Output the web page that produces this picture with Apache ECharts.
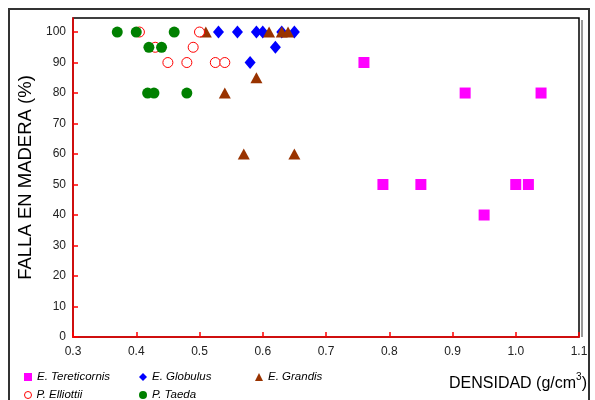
<!DOCTYPE html>
<html><head><meta charset="utf-8">
<script src="https://cdn.jsdelivr.net/npm/echarts@6/dist/echarts.min.js"></script>
<style>html,body{margin:0;padding:0;background:#fff}#c{width:595px;height:400px}</style>
</head><body><div id="c"></div>
<script>
var seriesNames = ['E. Tereticornis', 'E. Globulus', 'E. Grandis', 'P. Elliottii', 'P. Taeda'];
var tereticornis = [[0.76,90],[0.79,50],[0.85,50],[0.92,80],[0.95,40],[1.00,50],[1.02,50],[1.04,80]];
var globulus = [[0.53,100],[0.56,100],[0.59,100],[0.60,100],[0.63,100],[0.65,100],[0.62,95],[0.58,90]];
var grandis = [[0.51,100],[0.61,100],[0.63,100],[0.64,100],[0.59,85],[0.54,80],[0.57,60],[0.65,60]];
var elliottii = [[0.405,100],[0.50,100],[0.43,95],[0.49,95],[0.45,90],[0.48,90],[0.525,90],[0.54,90]];
var taeda = [[0.37,100],[0.40,100],[0.46,100],[0.42,95],[0.44,95],[0.418,80],[0.428,80],[0.48,80]];
var yTicks = [0,10,20,30,40,50,60,70,80,90,100];

var chart = echarts.init(document.getElementById('c'), null, {renderer:'canvas'});
var font = '"Liberation Sans", Arial, sans-serif';
function legendAt(name, left, top, size) {
  return {data:[name], left:left, top:top, itemWidth:size || 8, itemHeight:size || 8, itemGap:0, padding:0,
    itemStyle:{borderWidth:1},
    textStyle:{fontFamily:font, fontSize:11.5, fontStyle:'italic', color:'#000'}};
}
chart.setOption({
  animation:false,
  backgroundColor:'#fff',
  textStyle:{fontFamily:font},
  grid:{left:73, right:16, top:18, bottom:63, show:true, borderColor:'#000', borderWidth:1.5, backgroundColor:'#fff'},
  legend:[
    legendAt(seriesNames[0], 24, 371),
    legendAt(seriesNames[1], 139, 371),
    legendAt(seriesNames[2], 255, 371),
    legendAt(seriesNames[3], 24, 389, 7),
    legendAt(seriesNames[4], 139, 389)
  ],
  graphic:[
    {type:'rect', shape:{x:9, y:9, width:580, height:400}, style:{fill:null, stroke:'#333', lineWidth:2}, silent:true},
    {type:'line', shape:{x1:582, y1:20, x2:582, y2:337}, style:{stroke:'#999', lineWidth:2}, silent:true},
    {type:'text', right:8, top:372, style:{
      text:'{a|DENSIDAD (g/cm}{s|3}{a|)}',
      rich:{a:{fontFamily:font, fontSize:16, color:'#000', verticalAlign:'bottom', lineHeight:20},
            s:{fontFamily:font, fontSize:10, color:'#000', verticalAlign:'top', lineHeight:20, padding:[0,0,8,0]}}
    }}
  ],
  xAxis:{type:'value', min:0.3, max:1.1, interval:0.1,
    axisLine:{lineStyle:{color:'#ff0000', width:1.5}},
    axisTick:{inside:true, length:5, lineStyle:{color:'#ff0000', width:1.5}},
    splitLine:{show:false},
    axisLabel:{color:'#222', fontSize:12, margin:9, formatter:function(v){return v.toFixed(1);}}
  },
  yAxis:{type:'value', min:0, max:104.6,
    name:'FALLA EN MADERA (%)', nameLocation:'middle', nameGap:31, nameRotate:90,
    nameTextStyle:{fontSize:18.5, color:'#000', fontFamily:font},
    axisLine:{lineStyle:{color:'#ff0000', width:1.5}},
    axisTick:{inside:true, length:5, customValues:yTicks, lineStyle:{color:'#ff0000', width:1.5}},
    axisLabel:{color:'#222', fontSize:12, margin:7, customValues:yTicks},
    splitLine:{show:false}
  },
  series:[
    {name:seriesNames[0], type:'scatter', symbol:'rect', symbolSize:11, data:tereticornis, itemStyle:{color:'#ff00ff', opacity:1}},
    {name:seriesNames[1], type:'scatter', symbol:'diamond', symbolSize:[11,13], data:globulus, itemStyle:{color:'#0000ff', opacity:1}},
    {name:seriesNames[2], type:'scatter', symbol:'triangle', symbolSize:[12,11], data:grandis, itemStyle:{color:'#993300', opacity:1}},
    {name:seriesNames[3], type:'scatter', symbol:'circle', symbolSize:10, data:elliottii, itemStyle:{color:'#fff', borderColor:'#ff0000', borderWidth:1, opacity:1}},
    {name:seriesNames[4], type:'scatter', symbol:'circle', symbolSize:11, data:taeda, itemStyle:{color:'#008000', opacity:1}}
  ]
});
</script></body></html>
